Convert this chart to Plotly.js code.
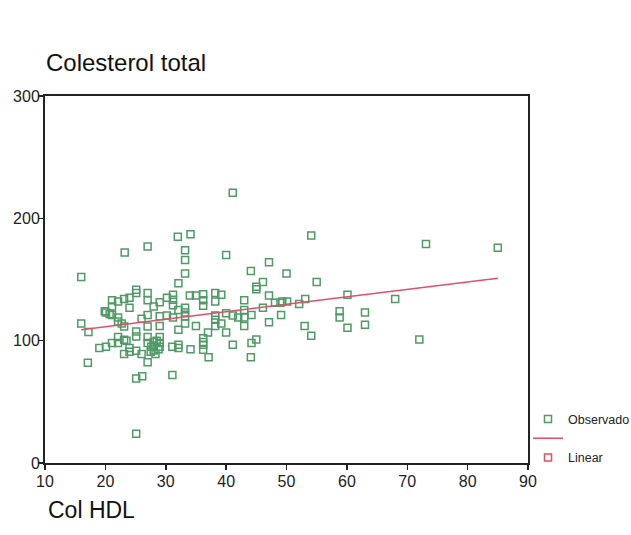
<!DOCTYPE html>
<html>
<head>
<meta charset="utf-8">
<script src="https://cdn.plot.ly/plotly-3.0.1.min.js"></script>
<style>html,body{margin:0;padding:0;background:#fff;}#chart{width:631px;height:535px;}</style>
</head>
<body>
<div id="chart"></div>
<script>
// Observed points: HDL cholesterol (x) vs total cholesterol (y)
var hdl = [16.0,16.0,17.2,17.1,19.0,20.1,20.1,21.1,21.1,21.1,21.1,22.1,22.1,22.1,22.1,22.1,23.1,23.1,23.1,23.1,23.2,24.0,24.0,24.0,24.0,25.1,25.1,25.1,25.1,25.1,25.1,25.1,26.1,26.0,26.0,27.0,27.0,27.0,27.0,27.0,27.0,27.0,27.0,28.0,28.0,28.0,28.0,28.5,29.0,29.0,29.0,29.0,29.0,29.0,30.2,30.2,31.2,31.2,31.2,31.2,31.1,31.1,32.0,32.1,32.1,32.1,32.1,32.1,33.2,33.2,33.2,33.2,33.2,33.2,33.2,34.1,34.0,34.1,35.0,35.0,36.2,36.2,36.2,36.2,36.2,36.2,36.2,37.1,37.0,38.2,38.2,38.2,38.2,38.2,39.2,39.2,40.0,40.0,40.0,41.1,41.1,41.1,42.0,43.0,43.0,43.0,43.0,44.1,44.2,44.2,44.1,45.0,45.0,45.0,46.1,46.1,47.1,47.1,47.1,48.1,49.0,49.3,49.1,50.0,50.1,52.1,53.1,53.0,54.1,54.1,55.0,58.8,58.8,60.1,60.1,63.0,63.0,68.0,72.0,73.1,85.0,27.5,28.3,28.8,27.6,19.9,20.7,22.7,23.5];
var total = [152,114,107,82,94,95,123,133,128,121,98,132,119,115.6,98,103,134,111.5,100.7,89,172,135,127,94,91,141.6,139,107.5,103.4,91.7,24,69,71,118,89,177,139,133,121,111.5,103,98,82.4,128,99,96,92,100,131.5,120,112,103,98,95,135,120.5,137.5,133.5,129,119,95,72,185,147,125,109,96.6,94,174,166,155,127,123,120,114,187,137,93,137,112,138,133,128.5,102,99,96.6,92.5,86.5,106.6,139,132,120.5,117,112,137.5,114,170,122.5,106.6,221,120.5,96.6,119,133,125,119,112,157,121,98,86.5,144,142,101,148,127,164,137,115,131,131,132,121,155,132,130,134,112,186,104,148,124,119,137.5,110.5,123,113,134,101,179,176,91,89,93,95,124,121.7,114,100];
// Linear fit line (endpoints)
var fitX = [16, 85];
var fitY = [109, 151];
var xTicks = [10,20,30,40,50,60,70,80,90];
var yTicks = [0,100,200,300];

var green = '#4f9a66';
var red = '#e0506a';
var font = 'Liberation Sans, Arial, sans-serif';

var traces = [
  {x: hdl, y: total, type: 'scatter', mode: 'markers', name: 'Observado',
   marker: {symbol: 'square-open', size: 7, color: green, line: {width: 1.5, color: green}},
   cliponaxis: false},
  {x: fitX, y: fitY, type: 'scatter', mode: 'lines', name: ' ',
   line: {color: red, width: 1.5}},
  {x: [null], y: [null], type: 'scatter', mode: 'markers', name: 'Linear',
   marker: {symbol: 'square-open', size: 7, color: red, line: {width: 1.5, color: red}}}
];

var axisCommon = {
  showgrid: false, zeroline: false, showline: true, linecolor: '#222', linewidth: 2,
  mirror: true, ticks: 'outside', ticklen: 5, tickwidth: 1.5, tickcolor: '#222',
  tickfont: {family: font, size: 16, color: '#222'}
};

var layout = {
  width: 631, height: 535,
  margin: {l: 45, r: 103, t: 96, b: 72, autoexpand: false},
  paper_bgcolor: '#fff', plot_bgcolor: '#fff',
  font: {family: font, color: '#222'},
  title: {text: 'Colesterol total', font: {family: font, size: 24, color: '#111'},
          x: 46/631, xanchor: 'left', xref: 'container', y: 1 - 63/535, yanchor: 'middle', yref: 'container'},
  xaxis: Object.assign({}, axisCommon, {range: [10, 90], tickvals: xTicks, ticktext: xTicks.map(String), ticklabelstandoff: -2}),
  yaxis: Object.assign({}, axisCommon, {range: [0, 300], tickvals: yTicks, ticktext: yTicks.map(String), ticklabelstandoff: -5}),
  showlegend: true,
  legend: {x: 1.0, xanchor: 'left', y: 0.16, yanchor: 'top', traceorder: 'normal',
           font: {family: font, size: 12.5, color: '#222'}, bgcolor: 'rgba(0,0,0,0)',
           itemwidth: 30, tracegroupgap: 0},
  annotations: [
    {text: 'Col HDL', xref: 'paper', yref: 'paper', x: 1/483, y: -47/366.5,
     xanchor: 'left', yanchor: 'middle', showarrow: false,
     font: {family: font, size: 23, color: '#111'}}
  ]
};

Plotly.newPlot('chart', traces, layout, {displayModeBar: false, staticPlot: true});
</script>
</body>
</html>
